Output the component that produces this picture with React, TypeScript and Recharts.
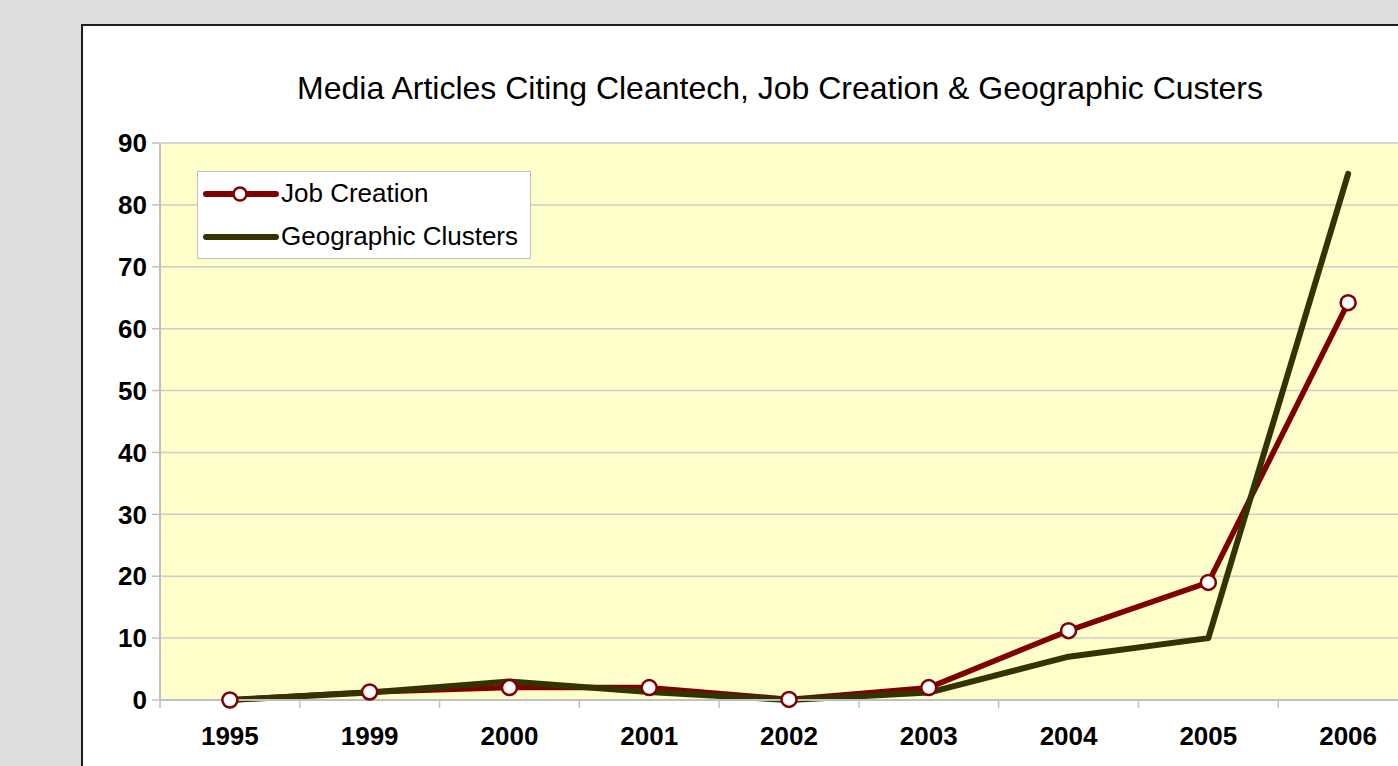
import React from "react";
import { LineChart, Line, XAxis, YAxis, CartesianGrid } from "recharts";

const years = ["1995", "1999", "2000", "2001", "2002", "2003", "2004", "2005", "2006"];
const jobCreation = [0, 1.3, 2, 2, 0.1, 2, 11.2, 19, 64.2];
const geoClusters = [0, 1.2, 3, 1.3, 0, 1.2, 7, 10, 85];
const yTicks = [0, 10, 20, 30, 40, 50, 60, 70, 80, 90];

const TITLE = "Media Articles Citing Cleantech, Job Creation & Geographic Custers";
const JOB_COLOR = "#800000";
const GEO_COLOR = "#333300";
const FONT = "Liberation Sans, Arial, sans-serif";

const CHART_W = 1500;
const CHART_H = 800;
const PLOT_LEFT = 160;
const PLOT_RIGHT = 1418;
const BAND = (PLOT_RIGHT - PLOT_LEFT) / years.length;

const data = years.map((y, i) => ({ year: y, job: jobCreation[i], geo: geoClusters[i] }));

function XTick(props: any) {
  const { x, y, payload } = props;
  return (
    <g>
      <line x1={x - BAND / 2} x2={x - BAND / 2} y1={y - 8} y2={y} stroke="#c0c0c0" strokeWidth={1.5} />
      <text x={x} y={y + 37} textAnchor="middle" fontFamily={FONT} fontWeight="bold" fontSize={26} fill="#000">
        {payload.value}
      </text>
    </g>
  );
}

function LegendBox() {
  const row = (label: string, color: string, marker: boolean) => (
    <div style={{ display: "flex", alignItems: "center", height: 43 }}>
      <svg width={80} height={20} style={{ marginLeft: 2 }}>
        <line x1={6} x2={76} y1={10} y2={10} stroke={color} strokeWidth={6} strokeLinecap="round" />
        {marker && <circle cx={40} cy={10} r={6.5} fill="#fff" stroke={color} strokeWidth={2.5} />}
      </svg>
      <span style={{ fontSize: 26, color: "#000", marginLeft: 1 }}>{label}</span>
    </div>
  );
  return (
    <div
      style={{
        position: "absolute",
        left: 197,
        top: 171,
        background: "#fff",
        border: "1.5px solid #c0c0c0",
        width: 334,
        height: 88,
        boxSizing: "border-box",
        fontFamily: FONT,
      }}
    >
      {row("Job Creation", JOB_COLOR, true)}
      {row("Geographic Clusters", GEO_COLOR, false)}
    </div>
  );
}

export default function App() {
  return (
    <div
      style={{
        position: "absolute",
        left: 0,
        top: 0,
        width: 1398,
        height: 766,
        overflow: "hidden",
        background: "#dddddd",
      }}
    >
      <div
        style={{
          position: "absolute",
          left: 81,
          top: 24,
          width: 1500,
          height: 900,
          border: "2px solid #1e1e1e",
          background: "#fff",
        }}
      />
      <div
        style={{
          position: "absolute",
          left: 0,
          width: 1560,
          top: 70,
          textAlign: "center",
          fontFamily: FONT,
          fontSize: 32,
          color: "#000",
          whiteSpace: "nowrap",
        }}
      >
        {TITLE}
      </div>
      <div style={{ position: "absolute", left: 0, top: 0 }}>
        <LineChart
          width={CHART_W}
          height={CHART_H}
          data={data}
          margin={{ top: 143, right: CHART_W - PLOT_RIGHT, left: PLOT_LEFT - 60, bottom: 40 }}
        >
          <CartesianGrid vertical={false} stroke="#cccccc" strokeWidth={1.5} fill="#ffffcc" fillOpacity={1} />
          <XAxis
            dataKey="year"
            height={60}
            padding={{ left: BAND / 2, right: BAND / 2 }}
            axisLine={{ stroke: "#c0c0c0", strokeWidth: 2 }}
            tickLine={false}
            tick={<XTick />}
            interval={0}
          />
          <YAxis
            width={60}
            domain={[0, 90]}
            ticks={yTicks}
            interval={0}
            axisLine={{ stroke: "#c0c0c0", strokeWidth: 2 }}
            tickLine={{ stroke: "#c0c0c0", strokeWidth: 1.5 }}
            tickSize={8}
            tickMargin={5}
            tick={{ fontSize: 26, fontWeight: "bold", fill: "#000", fontFamily: FONT }}
          />
          <Line
            dataKey="job"
            name="Job Creation"
            stroke={JOB_COLOR}
            strokeWidth={5.5}
            strokeLinejoin="round"
            dot={false}
            activeDot={false}
            isAnimationActive={false}
          />
          <Line
            dataKey="geo"
            name="Geographic Clusters"
            stroke={GEO_COLOR}
            strokeWidth={6}
            strokeLinejoin="round"
            strokeLinecap="round"
            dot={false}
            activeDot={false}
            isAnimationActive={false}
          />
          <Line
            dataKey="job"
            legendType="none"
            stroke="none"
            dot={{ r: 7.5, fill: "#fff", stroke: JOB_COLOR, strokeWidth: 2.5 }}
            activeDot={false}
            isAnimationActive={false}
          />
        </LineChart>
      </div>
      <LegendBox />
    </div>
  );
}
